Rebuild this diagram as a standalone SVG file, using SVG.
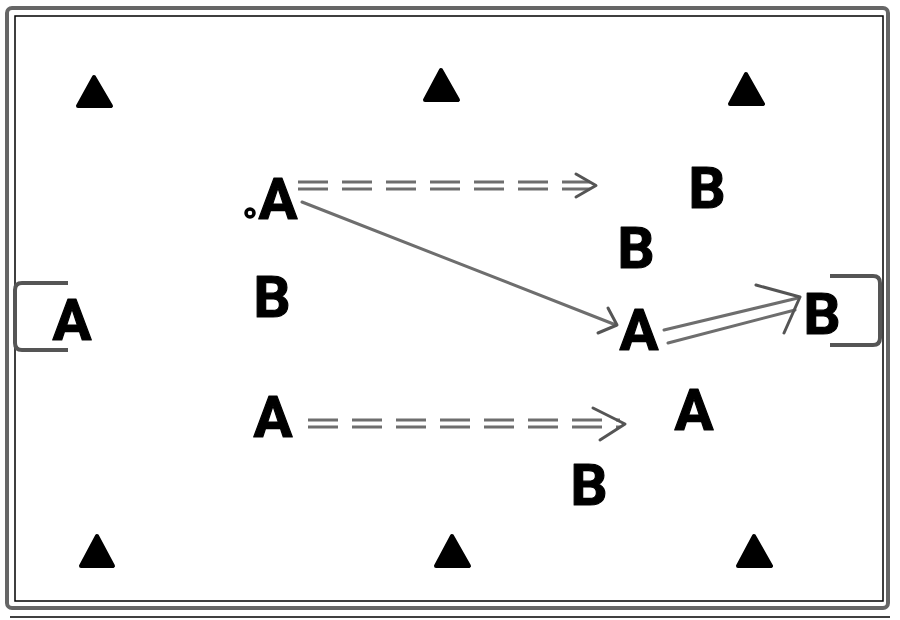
<svg xmlns="http://www.w3.org/2000/svg" width="900" height="620" viewBox="0 0 900 620">
<defs>
<style>
.lbl{font-family:Roboto,"Liberation Sans",Arial,sans-serif;font-weight:700;font-size:58px;fill:#000;text-anchor:middle;stroke:#000;stroke-width:1.2;stroke-linejoin:round}
.cone{fill:#000;stroke:#000;stroke-width:4;stroke-linejoin:round}
.run{stroke:#6e6e6e;stroke-width:3;fill:none;stroke-linecap:round}
.dash{stroke:#6e6e6e;stroke-width:3;fill:none;stroke-dasharray:30 14}
.head{stroke:#555;stroke-width:3;fill:none;stroke-linecap:round;stroke-linejoin:round}
.goal{stroke:#555;stroke-width:4;fill:none;stroke-linejoin:round}
</style>
</defs>
<rect width="900" height="620" fill="#fff"/>
<g id="field">
<rect x="7" y="8" width="881" height="600" rx="5" fill="none" stroke="#666" stroke-width="4"/>
<rect x="15" y="16" width="868" height="585" fill="none" stroke="#000" stroke-width="1.5"/>
<line x1="10" y1="617" x2="890" y2="617" stroke="#000" stroke-width="1.5"/>
</g>
<g id="goal-left"><path class="goal" d="M68,283 H22 Q15,283 15,290 V343 Q15,350 22,350 H68"/></g>
<g id="goal-right"><path class="goal" d="M830,276 H873 Q880,276 880,283 V338 Q880,345 873,345 H830"/></g>
<g id="cones">
<polygon class="cone" points="94,77 111,106 78,106"/>
<polygon class="cone" points="441,70 458,100 425,100"/>
<polygon class="cone" points="746,74 763,104 730,104"/>
<polygon class="cone" points="97,536 113,566 81,566"/>
<polygon class="cone" points="452,536 469,566 436,566"/>
<polygon class="cone" points="754,536 771,566 738,566"/>
</g>
<g id="connectors">
<line class="dash" x1="298" y1="182" x2="590" y2="182"/>
<line class="dash" x1="298" y1="189" x2="590" y2="189"/>
<path class="head" d="M576,174 L596,185.5 L576,197"/>
<line class="run" x1="302" y1="202" x2="616" y2="325"/>
<path class="head" d="M608,308 L617,325 L598,333"/>
<line class="run" x1="664" y1="330" x2="798" y2="298"/>
<line class="run" x1="668" y1="343" x2="795" y2="310"/>
<path class="head" d="M756,285 L800,297 L784,333"/>
<line class="dash" x1="308" y1="420" x2="620" y2="420"/>
<line class="dash" x1="308" y1="427" x2="620" y2="427"/>
<path class="head" d="M593,408 L625,424 L600,440"/>
</g>
<g id="player-a1"><circle cx="250" cy="213" r="4" fill="#fff" stroke="#000" stroke-width="3.5"/><text class="lbl" x="278" y="219">A</text></g>
<g id="player-b1"><text class="lbl" x="272" y="317">B</text></g>
<g id="player-b2"><text class="lbl" x="707" y="208">B</text></g>
<g id="player-b3"><text class="lbl" x="636" y="268">B</text></g>
<g id="player-a2"><text class="lbl" x="639" y="350">A</text></g>
<g id="player-b4"><text class="lbl" x="822" y="334">B</text></g>
<g id="player-a3"><text class="lbl" x="72" y="340">A</text></g>
<g id="player-a4"><text class="lbl" x="273" y="437">A</text></g>
<g id="player-a5"><text class="lbl" x="694" y="430">A</text></g>
<g id="player-b5"><text class="lbl" x="589" y="505">B</text></g>
</svg>
